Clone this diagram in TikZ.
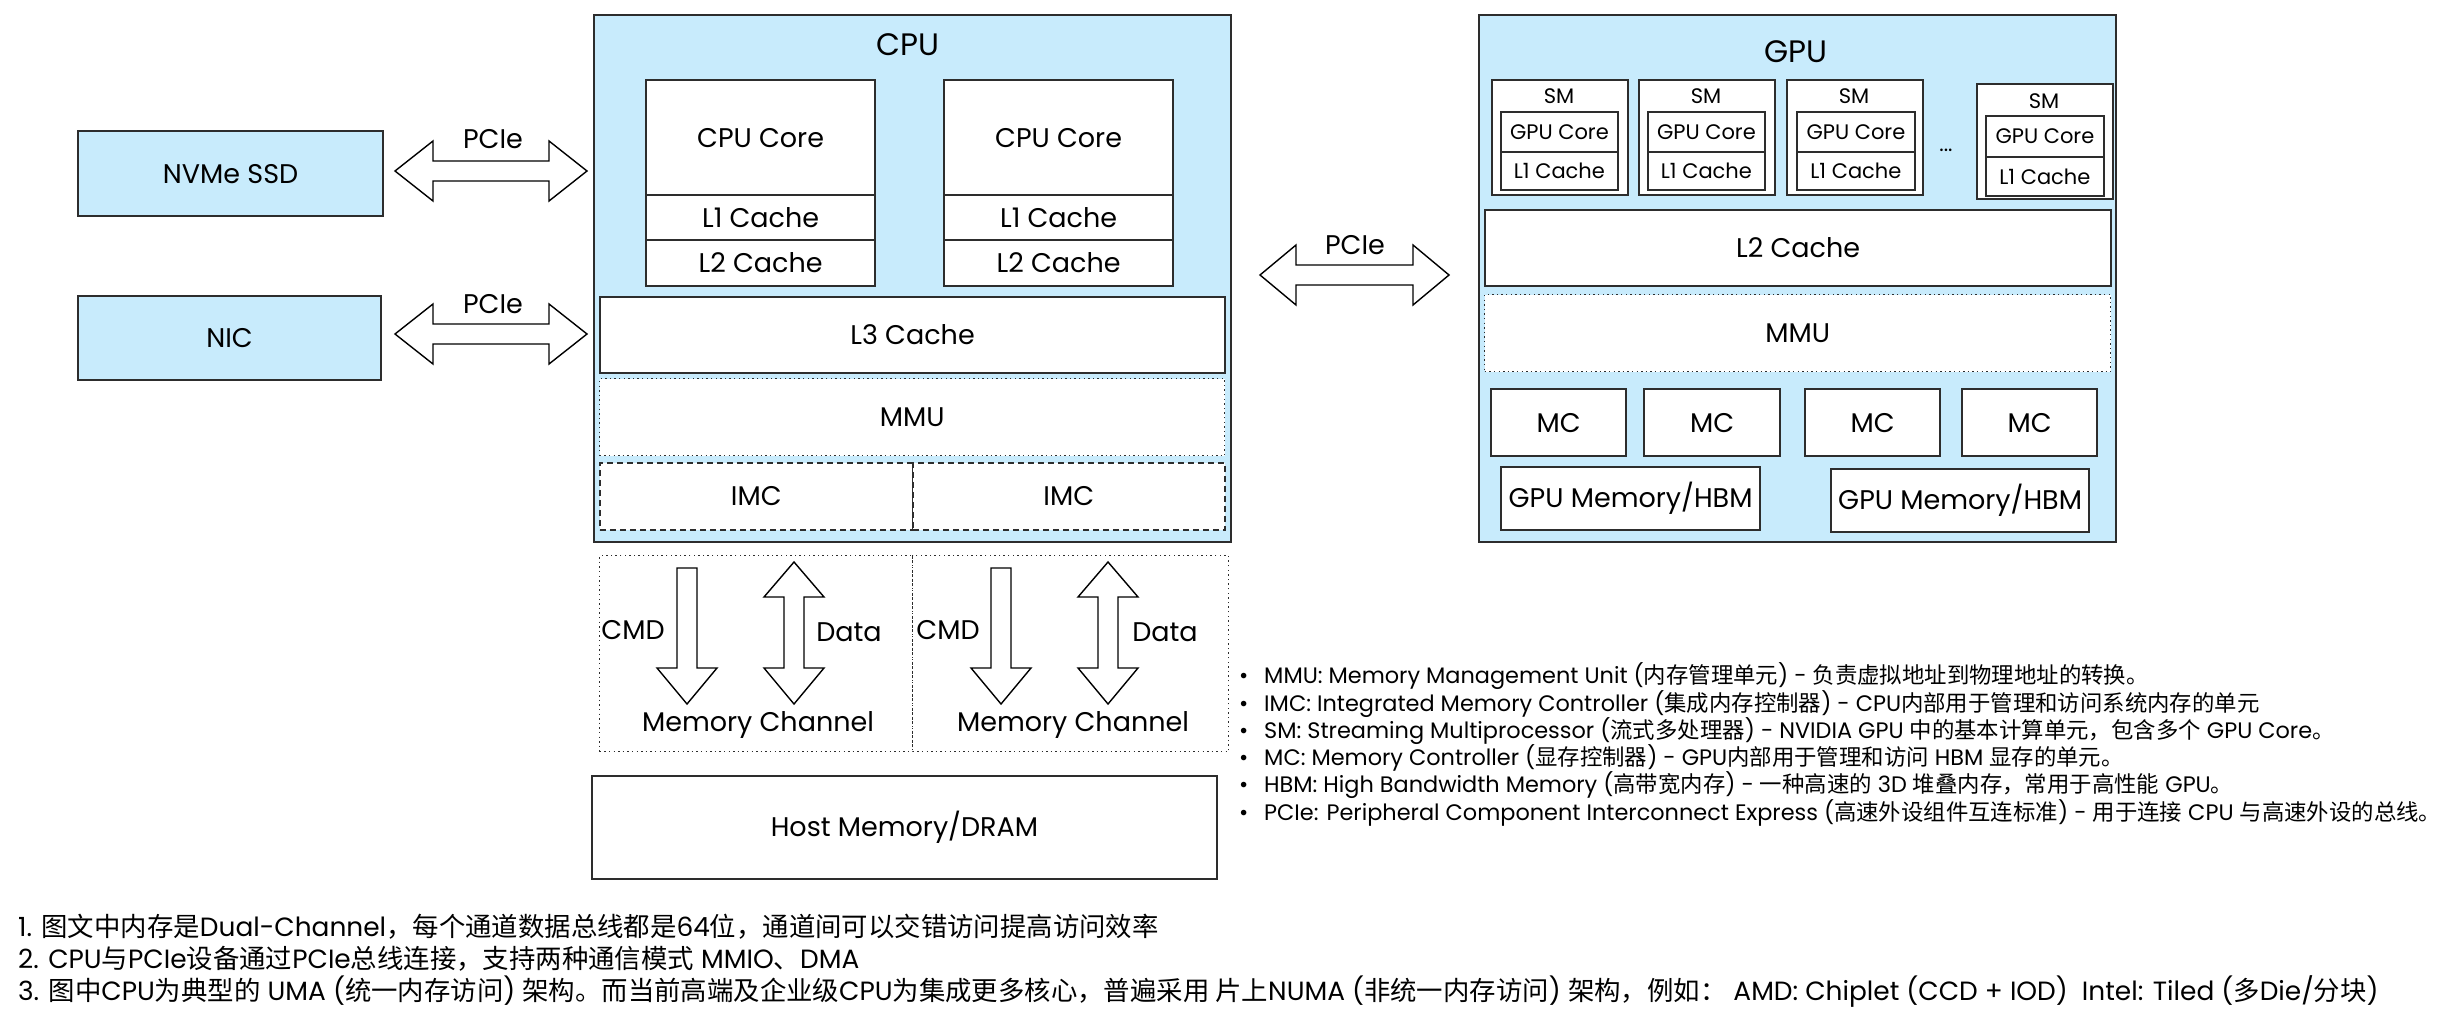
\documentclass[tikz,border=0pt]{standalone}
\usepackage{fontspec}
\setmainfont{Poppins}
\newfontfamily\cjk{Noto Sans CJK SC}
\newcommand\zh[1]{{\cjk #1}}
\definecolor{lblue}{RGB}{200,235,252}
\definecolor{ln}{RGB}{45,45,45}
\newcommand\rbox[7][]{\node[box,#1,minimum width={#5-#3},minimum height={#6-#4}] (#2) at (#3,#4) {#7};}
\begin{document}
\begin{tikzpicture}[x=1pt,y=-1pt,
  box/.style={draw=ln,line width=2.2pt,anchor=north west,inner sep=0pt,fill=white,font=\fontsize{27}{31}\selectfont},
  blue/.style={fill=lblue},
  dotbox/.style={line width=1.4pt,dash pattern=on 1.4pt off 3.2pt},
  dashbox/.style={line width=1.6pt,dash pattern=on 6pt off 4pt},
  smbox/.style={line width=1.8pt,font=\fontsize{21}{24}\selectfont},
  blk/.style={draw=black,line width=1.4pt,fill=white,line join=miter},
  lbl/.style={font=\fontsize{27}{31}\selectfont,inner sep=0pt},
  ttl/.style={font=\fontsize{31}{35}\selectfont,inner sep=0pt},
  leg/.style={font=\fontsize{22.4}{26}\selectfont,inner sep=0pt,anchor=west},
  note/.style={font=\fontsize{26.4}{30}\selectfont,inner sep=0pt,anchor=west}]
\useasboundingbox (0,0) rectangle (2446,1019);

% ---------- left devices ----------
\rbox[blue]{nvme}{77}{130}{382}{215}{NVMe SSD}
\rbox[blue]{nic}{77}{295}{380}{379}{NIC}

% ---------- CPU ----------
\rbox[blue]{cpu}{593}{14}{1230}{541}{}
\node[ttl] (cputitle) at (908,45) {CPU};
\rbox{core1}{645}{79}{874}{194}{CPU Core}
\rbox{l1a}{645}{194}{874}{239}{L1 Cache}
\rbox{l2a}{645}{239}{874}{285}{L2 Cache}
\rbox{core2}{943}{79}{1172}{194}{CPU Core}
\rbox{l1b}{943}{194}{1172}{239}{L1 Cache}
\rbox{l2b}{943}{239}{1172}{285}{L2 Cache}
\rbox{l3}{599}{296}{1224}{372}{L3 Cache}
\rbox[dotbox]{mmu}{599}{378}{1224}{455}{MMU}
\rbox[dashbox]{imc1}{599}{462}{912}{529}{IMC}
\rbox[dashbox]{imc2}{912}{462}{1224}{529}{IMC}

% ---------- memory channels ----------
\rbox[dotbox,fill=none]{mc1}{599}{555}{912}{751}{}
\rbox[dotbox,fill=none]{mc2}{912}{555}{1228}{751}{}
\foreach \cx in {687,1001}{
  \draw[blk,shift={(\cx,0)}] (-10,568) -- (10,568) -- (10,668) -- (30,668) -- (0,704) -- (-30,668) -- (-10,668) -- cycle;}
\foreach \cx in {794,1108}{
  \draw[blk,shift={(\cx,0)}] (0,562) -- (30,597) -- (10,597) -- (10,668) -- (30,668) -- (0,704) -- (-30,668) -- (-10,668) -- (-10,597) -- (-30,597) -- cycle;}
\node[lbl] (cmd1) at (633,630) {CMD};
\node[lbl] (data1) at (849,632) {Data};
\node[lbl] (cmd2) at (948,630) {CMD};
\node[lbl] (data2) at (1165,632) {Data};
\node[lbl] (mch1) at (758,725) {Memory Channel};
\node[lbl] (mch2) at (1073,725) {Memory Channel};
\rbox[line width=1.8pt]{host}{591}{775}{1216}{878}{Host Memory/DRAM}

% ---------- PCIe arrows ----------
\draw[blk] (395,171) -- (433,141) -- (433,161) -- (549,161) -- (549,141) -- (587,171) -- (549,201) -- (549,181) -- (433,181) -- (433,201) -- cycle;
\draw[blk] (395,334) -- (433,304) -- (433,324) -- (549,324) -- (549,304) -- (587,334) -- (549,364) -- (549,344) -- (433,344) -- (433,364) -- cycle;
\draw[blk] (1260,275) -- (1296,245) -- (1296,265) -- (1413,265) -- (1413,245) -- (1449,275) -- (1413,305) -- (1413,285) -- (1296,285) -- (1296,305) -- cycle;
\node[lbl] (p1) at (493,139) {PCIe};
\node[lbl] (p2) at (493,304) {PCIe};
\node[lbl] (p3) at (1355,245) {PCIe};

% ---------- GPU ----------
\rbox[blue]{gpu}{1478}{14}{2115}{541}{}
\node[ttl] (gputitle) at (1796,52) {GPU};
\rbox[smbox]{sm1}{1491}{79}{1627}{194}{}
\node[smbox,inner sep=0pt] (sm1t) at (1559,96) {SM};
\rbox[smbox]{sm1c}{1500}{111}{1617}{151}{GPU Core}
\rbox[smbox]{sm1l}{1500}{151}{1617}{189}{L1 Cache}
\rbox[smbox]{sm2}{1638}{79}{1774}{194}{}
\node[smbox,inner sep=0pt] (sm2t) at (1706,96) {SM};
\rbox[smbox]{sm2c}{1647}{111}{1764}{151}{GPU Core}
\rbox[smbox]{sm2l}{1647}{151}{1764}{189}{L1 Cache}
\rbox[smbox]{sm3}{1786}{79}{1922}{194}{}
\node[smbox,inner sep=0pt] (sm3t) at (1854,96) {SM};
\rbox[smbox]{sm3c}{1796}{111}{1914}{151}{GPU Core}
\rbox[smbox]{sm3l}{1796}{151}{1914}{189}{L1 Cache}
\node[smbox,inner sep=0pt] (dots) at (1946,150) {...};
\rbox[smbox]{sm4}{1976}{83}{2112}{198}{}
\node[smbox,inner sep=0pt] (sm4t) at (2044,101) {SM};
\rbox[smbox]{sm4c}{1985}{115}{2103}{156}{GPU Core}
\rbox[smbox]{sm4l}{1985}{156}{2103}{195}{L1 Cache}
\rbox{gl2}{1484}{209}{2110}{285}{L2 Cache}
\rbox[dotbox]{gmmu}{1484}{294}{2110}{371}{MMU}
\rbox{gmc1}{1490}{388}{1625}{455}{MC}
\rbox{gmc2}{1643}{388}{1779}{455}{MC}
\rbox{gmc3}{1804}{388}{1939}{455}{MC}
\rbox{gmc4}{1961}{388}{2096}{455}{MC}
\rbox{hbm1}{1500}{466}{1759}{529}{GPU Memory/HBM}
\rbox{hbm2}{1830}{468}{2088}{531}{GPU Memory/HBM}

% ---------- legend ----------
\node[leg] (lg1) at (1239,676) {\makebox[25pt][l]{•}MMU: Memory Management Unit (\zh{内存管理单元}) - \zh{负责虚拟地址到物理地址的转换。}};
\node[leg] (lg2) at (1239,704) {\makebox[25pt][l]{•}IMC: Integrated Memory Controller (\zh{集成内存控制器}) - CPU\zh{内部用于管理和访问系统内存的单元}};
\node[leg] (lg3) at (1239,731) {\makebox[25pt][l]{•}SM: Streaming Multiprocessor (\zh{流式多处理器}) - NVIDIA GPU \zh{中的基本计算单元，包含多个} GPU Core\zh{。}};
\node[leg] (lg4) at (1239,758) {\makebox[25pt][l]{•}MC: Memory Controller (\zh{显存控制器}) - GPU\zh{内部用于管理和访问} HBM \zh{显存的单元。}};
\node[leg] (lg5) at (1239,785) {\makebox[25pt][l]{•}HBM: High Bandwidth Memory (\zh{高带宽内存}) - \zh{一种高速的} 3D \zh{堆叠内存，常用于高性能} GPU\zh{。}};
\node[leg] (lg6) at (1239,813) {\makebox[25pt][l]{•}PCIe: Peripheral Component Interconnect Express (\zh{高速外设组件互连标准}) - \zh{用于连接} CPU \zh{与高速外设的总线。}};

% ---------- notes ----------
\node[note] (n1) at (18,927) {1. \zh{图文中内存是}Dual-Channel\zh{，每个通道数据总线都是}64\zh{位，通道间可以交错访问提高访问效率}};
\node[note] (n2) at (18,959) {2. CPU\zh{与}PCIe\zh{设备通过}PCIe\zh{总线连接，支持两种通信模式} MMIO\zh{、}DMA};
\node[note] (n3) at (18,991) {3. \zh{图中}CPU\zh{为典型的} UMA (\zh{统一内存访问}) \zh{架构。而当前高端及企业级}CPU\zh{为集成更多核心，普遍采用 片上}NUMA (\zh{非统一内存访问}) \zh{架构，例如：} AMD: Chiplet (CCD + IOD)\ \ Intel: Tiled (\zh{多}Die/\zh{分块})};
\end{tikzpicture}
\end{document}
